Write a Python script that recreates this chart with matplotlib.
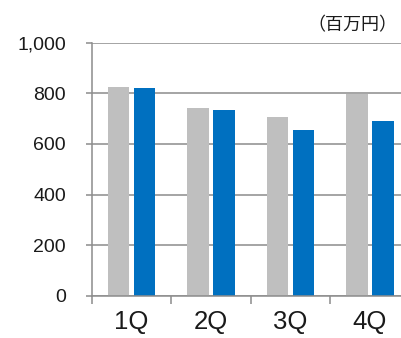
import matplotlib
matplotlib.use("Agg")
import matplotlib.pyplot as plt
from matplotlib.ticker import FuncFormatter
import numpy as np

plt.rcParams["font.family"] = ["Liberation Sans", "Noto Sans CJK JP", "DejaVu Sans"]

# データ（百万円）
quarters = ["1Q", "2Q", "3Q", "4Q"]
prev_year = [826, 743, 708, 799]
this_year = [822, 733, 654, 689]

GRAY = "#BFBFBF"
BLUE = "#0070C0"
LINE = "#8C8C8C"

fig = plt.figure(figsize=(4.01, 3.38), dpi=100)
ax = fig.add_axes([0.2287, 0.1243, 0.793, 0.7497])

x = np.arange(len(quarters))
width = 0.27
offset = 0.162
ax.bar(x - offset, prev_year, width, color=GRAY, zorder=3)
ax.bar(x + offset, this_year, width, color=BLUE, zorder=3)

ax.set_xlim(-0.5, len(quarters) - 0.5)
ax.set_ylim(0, 1000)
ax.set_yticks(np.arange(0, 1001, 200))
ax.yaxis.set_major_formatter(FuncFormatter(lambda v, p: f"{int(v):,}"))
ax.grid(axis="y", color=LINE, linewidth=1.1, zorder=1)

# 区切りの目盛りは境界に、ラベルは中央に
ax.set_xticks(np.arange(-0.5, len(quarters), 1.0))
ax.set_xticklabels([])
ax.set_xticks(x, minor=True)
ax.set_xticklabels(quarters, minor=True)
ax.tick_params(axis="x", which="major", length=6, width=1.1, color=LINE)
ax.tick_params(axis="x", which="minor", length=0, pad=10, labelsize=18.5,
               labelcolor="#1a1a1a")
ax.tick_params(axis="y", length=4.5, width=1.1, color=LINE, pad=14,
               labelsize=14, labelcolor="#1a1a1a")

for side in ["top", "right"]:
    ax.spines[side].set_visible(False)
for side in ["left", "bottom"]:
    ax.spines[side].set_color(LINE)
    ax.spines[side].set_linewidth(1.1)
    ax.spines[side].set_zorder(4)

fig.text(0.992, 1 - 25 / 338, "（百万円）", ha="right", va="center",
         fontsize=13, color="#1a1a1a",
         family=["Noto Sans CJK JP", "DejaVu Sans"])

fig.savefig("out.png", dpi=100)
